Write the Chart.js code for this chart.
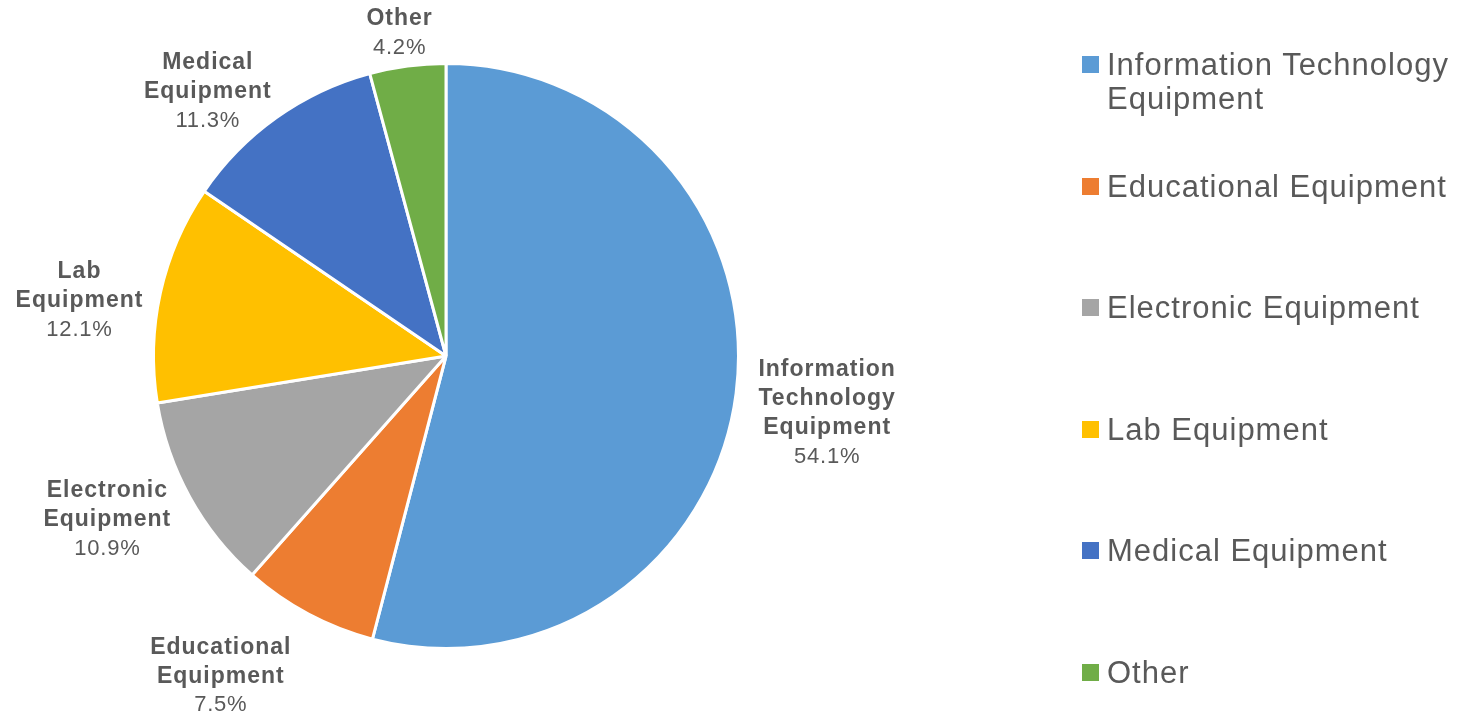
<!DOCTYPE html>
<html>
<head>
<meta charset="utf-8">
<script src="https://cdn.jsdelivr.net/npm/chart.js@4.4.1/dist/chart.umd.min.js"></script>
<style>
	body { margin: 0; background: #fff; }
	#wrap { position: relative; width: 1470px; height: 715px; }
	#pie-chart { position: absolute; left: 0; top: 0; }
	#legend { position: absolute; left: 1082px; top: 0; }
	.item { position: absolute; left: 0; display: flex; align-items: flex-start;
		font-family: "Liberation Sans", Arial, sans-serif; font-size: 31px; line-height: 34px;
		letter-spacing: 1px; color: #595959; white-space: nowrap; }
	.box { width: 17px; height: 17px; margin-top: 8px; margin-right: 8px; flex: none; }
</style>
</head>
<body>
<div id="wrap">
	<canvas id="pie-chart" width="1470" height="715"></canvas>
	<div id="legend"></div>
</div>
<script>
var categories = ["Information Technology Equipment", "Educational Equipment", "Electronic Equipment",
	"Lab Equipment", "Medical Equipment", "Other"];
var shares = [54.1, 7.5, 10.9, 12.1, 11.3, 4.2];
var legendLines = [["Information Technology", "Equipment"], ["Educational Equipment"], ["Electronic Equipment"],
	["Lab Equipment"], ["Medical Equipment"], ["Other"]];
var colors = ["#5B9BD5", "#ED7D31", "#A5A5A5", "#FFC000", "#4472C4", "#70AD47"];

var textColor = "#595959";
var labelFont = '"Liberation Sans", Arial, sans-serif';
// small hand tweaks so the labels sit where excel put them
var labelShift = [[3, 10], [-45, 6], [-9, -8], [1, 22], [-20, 26], [-1, 16]];

// labels outside the slices: bold name (one word per line) + percent
var outsideLabels = {
	id: "outsideLabels",
	afterDatasetsDraw: function(chart) {
		var ctx = chart.ctx;
		var arcs = chart.getDatasetMeta(0).data;
		var lineH = 29, gap = 20;
		ctx.save();
		ctx.fillStyle = textColor;
		ctx.textAlign = "center";
		ctx.textBaseline = "middle";
		for (var i = 0; i < arcs.length; i++) {
			var p = arcs[i].getProps(["x", "y", "startAngle", "endAngle", "outerRadius"], true);
			var mid = (p.startAngle + p.endAngle) / 2;
			var c = Math.cos(mid), s = Math.sin(mid);
			var lines = categories[i].split(" ");
			var pct = shares[i].toFixed(1) + "%";
			ctx.font = "bold 23px " + labelFont;
			ctx.letterSpacing = "1px";
			var w = 0;
			for (var k = 0; k < lines.length; k++) w = Math.max(w, ctx.measureText(lines[k]).width);
			ctx.font = "22px " + labelFont;
			ctx.letterSpacing = "0.8px";
			w = Math.max(w, ctx.measureText(pct).width);
			var h = (lines.length + 1) * lineH;
			var d = p.outerRadius + gap;
			var cx = p.x + c * d + c * w / 2 + labelShift[i][0];
			var cy = p.y + s * d + s * h / 2 + labelShift[i][1];
			var top = cy - h / 2;
			ctx.font = "bold 23px " + labelFont;
			ctx.letterSpacing = "1px";
			for (var k = 0; k < lines.length; k++) ctx.fillText(lines[k], cx, top + lineH * (k + 0.5));
			ctx.font = "22px " + labelFont;
			ctx.letterSpacing = "0.8px";
			ctx.fillText(pct, cx, top + lineH * (lines.length + 0.5));
		}
		ctx.restore();
	}
};

var pieChart = new Chart(document.getElementById("pie-chart"), {
	type: "pie",
	data: {
		labels: categories,
		datasets: [{
			data: shares,
			backgroundColor: colors,
			borderColor: "#ffffff",
			borderWidth: 3
		}]
	},
	options: {
		responsive: false,
		animation: false,
		layout: { padding: { left: 152, top: 62, right: 730, bottom: 65 } },
		plugins: {
			legend: { display: false },
			tooltip: { enabled: false }
		}
	},
	plugins: [outsideLabels]
});

// html legend, one item every 121.5px
var legend = document.getElementById("legend");
for (var i = 0; i < categories.length; i++) {
	var item = document.createElement("div");
	item.className = "item";
	item.style.top = (65 + 121.5 * i - 17) + "px";
	var box = document.createElement("div");
	box.className = "box";
	box.style.background = colors[i];
	var txt = document.createElement("div");
	txt.innerHTML = legendLines[i].join("<br>");
	item.appendChild(box);
	item.appendChild(txt);
	legend.appendChild(item);
}
</script>
</body>
</html>
